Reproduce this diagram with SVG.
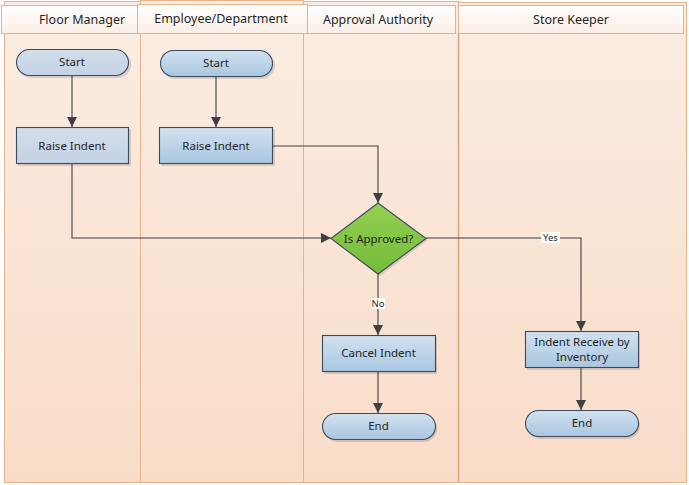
<svg xmlns="http://www.w3.org/2000/svg" width="689" height="485" viewBox="0 0 689 485">
<defs>
<linearGradient id="laneG" x1="0" y1="0" x2="0" y2="1"><stop offset="0" stop-color="#fbede3"/><stop offset="1" stop-color="#f9dcc8"/></linearGradient>
<linearGradient id="headG" x1="0" y1="0" x2="0" y2="1"><stop offset="0" stop-color="#ffffff"/><stop offset="1" stop-color="#fcefe6"/></linearGradient>
<linearGradient id="nodeG" x1="0" y1="0" x2="0" y2="1"><stop offset="0" stop-color="#d2e1ef"/><stop offset="1" stop-color="#a8c6e0"/></linearGradient>
<linearGradient id="nodeL" x1="0" y1="0" x2="0" y2="1"><stop offset="0" stop-color="#d3deeb"/><stop offset="1" stop-color="#c3d2e5"/></linearGradient>
<linearGradient id="dG" x1="0" y1="0" x2="0" y2="1"><stop offset="0" stop-color="#92d050"/><stop offset="1" stop-color="#76bb3a"/></linearGradient>
<marker id="arr" viewBox="0 0 10 10" refX="10" refY="5" markerWidth="10" markerHeight="10" markerUnits="userSpaceOnUse" orient="auto"><path d="M0,0 L10,5 L0,10 z" fill="#404040"/></marker>
</defs>
<style>
.lane{fill:url(#laneG);stroke:#e4b48e;stroke-width:1}
.head{fill:url(#headG);stroke:#e4b48e;stroke-width:1}
.ht{font-family:"Noto Sans","Open Sans",sans-serif;font-size:12.5px;fill:#262626;text-anchor:middle}
.n{stroke:#3c4a60;stroke-width:1.1}
.sh{fill:#000;opacity:0.13}
.t{font-family:"Noto Sans","Open Sans",sans-serif;font-size:11.5px;fill:#1f1f1f;text-anchor:middle}
.c{fill:none;stroke:#404040;stroke-width:1.1}
.lbl{font-family:"Noto Sans","Open Sans",sans-serif;font-size:9.5px;fill:#1f1f1f;text-anchor:middle}
</style>
<rect x="0" y="0" width="689" height="485" fill="#ffffff"/>
<g id="lanes">
<rect class="lane" x="4.5" y="1.5" width="136" height="481"/>
<rect class="lane" x="140.5" y="0.5" width="163" height="482"/>
<rect class="lane" x="303.5" y="1.5" width="155" height="481"/>
<rect class="lane" x="458.5" y="2.5" width="228" height="480"/>
<rect class="head" x="1.5" y="5.5" width="136" height="28"/>
<rect class="head" x="137.5" y="4.5" width="170" height="29"/>
<rect class="head" x="307.5" y="5.5" width="148" height="28"/>
<rect class="head" x="458.5" y="5.5" width="225" height="28"/>
<line x1="140.5" y1="33" x2="140.5" y2="482" stroke="#e4b48e"/>
<line x1="303.5" y1="33" x2="303.5" y2="482" stroke="#e4b48e"/>
<line x1="458.5" y1="33" x2="458.5" y2="482" stroke="#dba57c" stroke-width="1.5"/>
<text class="ht" x="82" y="23.5">Floor Manager</text>
<text class="ht" x="221" y="23">Employee/Department</text>
<text class="ht" x="378" y="23.5">Approval Authority</text>
<text class="ht" x="571" y="23.5">Store Keeper</text>
</g>
<g id="connectors">
<path class="c" d="M72,75 V127" marker-end="url(#arr)"/>
<path class="c" d="M216,76 V127" marker-end="url(#arr)"/>
<path class="c" d="M273,146 H378 V203" marker-end="url(#arr)"/>
<path class="c" d="M72,164 V238 H331" marker-end="url(#arr)"/>
<path class="c" d="M426,238 H581 V331" marker-end="url(#arr)"/>
<path class="c" d="M378,274 V335" marker-end="url(#arr)"/>
<path class="c" d="M378,372 V413" marker-end="url(#arr)"/>
<path class="c" d="M581,368 V410" marker-end="url(#arr)"/>
<rect x="541" y="232" width="19" height="11" fill="#ffffff"/>
<text class="lbl" x="550.5" y="241">Yes</text>
<rect x="371" y="298" width="14" height="11" fill="#ffffff"/>
<text class="lbl" x="378" y="307">No</text>
</g>
<g id="start1">
<rect class="sh" x="18" y="51" width="113" height="27" rx="13.5"/>
<rect class="n" x="16.5" y="49.5" width="112" height="26" rx="13" fill="url(#nodeL)"/>
<text class="t" x="72" y="66">Start</text>
</g>
<g id="start2">
<rect class="sh" x="162" y="52" width="113" height="27" rx="13.5"/>
<rect class="n" x="160.5" y="50.5" width="112" height="26" rx="13" fill="url(#nodeG)"/>
<text class="t" x="216" y="67">Start</text>
</g>
<g id="raise1">
<rect class="sh" x="18" y="129" width="113" height="37"/>
<rect class="n" x="16.5" y="127.5" width="112" height="36" fill="url(#nodeL)"/>
<text class="t" x="72" y="149.5">Raise Indent</text>
</g>
<g id="raise2">
<rect class="sh" x="161" y="129" width="114" height="37"/>
<rect class="n" x="159.5" y="127.5" width="113" height="36" fill="url(#nodeG)"/>
<text class="t" x="216" y="149.5">Raise Indent</text>
</g>
<g id="approved">
<polygon points="380,205 428,240 380,276 333,240" class="sh"/>
<polygon class="n" points="378,203 426,238.5 378,274 331,238.5" fill="url(#dG)" stroke="#4d6b2e"/>
<text class="t" x="378.5" y="242.5">Is Approved?</text>
</g>
<g id="cancel">
<rect class="sh" x="324" y="337" width="113" height="37"/>
<rect class="n" x="322.5" y="335.5" width="113" height="36" fill="url(#nodeG)"/>
<text class="t" x="378.5" y="357">Cancel Indent</text>
</g>
<g id="end1">
<rect class="sh" x="324" y="415" width="113" height="27" rx="13.5"/>
<rect class="n" x="322.5" y="413.5" width="113" height="26" rx="13" fill="url(#nodeG)"/>
<text class="t" x="378.5" y="430">End</text>
</g>
<g id="receive">
<rect class="sh" x="527" y="333" width="113" height="37"/>
<rect class="n" x="525.5" y="331.5" width="113" height="36" fill="url(#nodeG)"/>
<text class="t" x="582" y="345.5">Indent Receive by</text>
<text class="t" x="582" y="361">Inventory</text>
</g>
<g id="end2">
<rect class="sh" x="527" y="412" width="113" height="27" rx="13.5"/>
<rect class="n" x="525.5" y="410.5" width="113" height="26" rx="13" fill="url(#nodeG)"/>
<text class="t" x="582" y="427">End</text>
</g>
</svg>
